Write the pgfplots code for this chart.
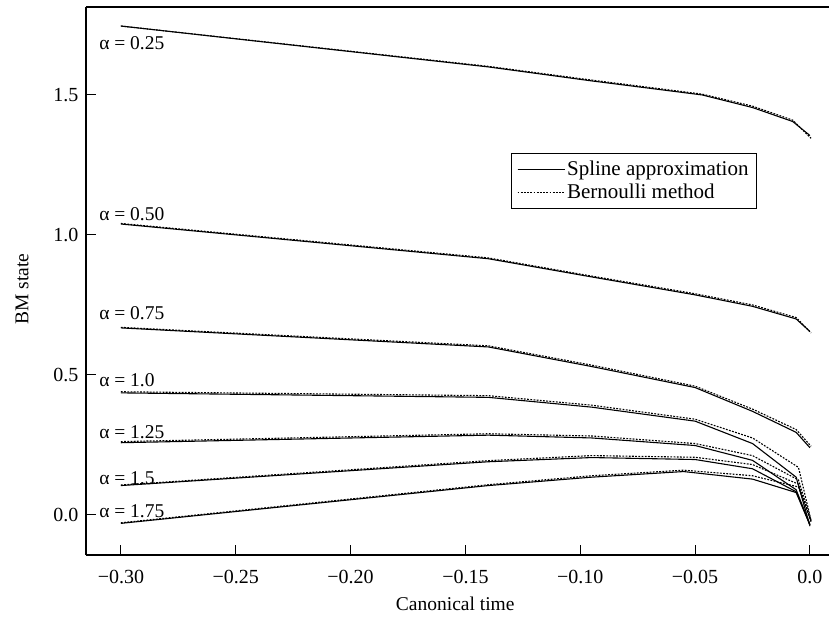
\documentclass[border=0pt]{standalone}
\usepackage{fontspec}
\setmainfont{Liberation Serif}
\usepackage{pgfplots}
\pgfplotsset{compat=1.18}
\begin{document}
\begin{tikzpicture}[x=1pt,y=1pt]
\begin{axis}[
  at={(0,0)}, anchor=south west,
  scale only axis, width=743pt, height=548pt,
  xmin=-0.3152, xmax=0.0083, ymin=-0.143, ymax=1.814,
  axis x line=box, axis y line=left,
  axis line style={-, line width=1.1pt},
  every outer y axis line/.append style={-},
  every outer x axis line/.append style={-},
  xtick={-0.3,-0.25,-0.2,-0.15,-0.1,-0.05,0},
  xticklabels={\textnormal{−0.30},\textnormal{−0.25},\textnormal{−0.20},\textnormal{−0.15},\textnormal{−0.10},\textnormal{−0.05},\textnormal{0.0}},
  ytick={0,0.5,1,1.5},
  yticklabels={\textnormal{0.0},\textnormal{0.5},\textnormal{1.0},\textnormal{1.5}},
  xtick pos=lower, ytick pos=left,
  tick align=inside, major tick length=10pt,
  tick style={line width=1pt, black},
  tick label style={font=\fontsize{20}{24}\selectfont},
  xticklabel style={yshift=-12pt},
  yticklabel style={xshift=-4pt},
  xlabel={Canonical time},
  ylabel={BM state},
  every axis x label/.style={at={(axis description cs:0.497,-0.090)}, anchor=center, font=\fontsize{19.5}{23}\selectfont},
  every axis y label/.style={at={(axis description cs:-0.086,0.485)}, rotate=90, anchor=center, font=\fontsize{19.5}{23}\selectfont},
  legend style={at={(0.903,0.734)}, anchor=north east, draw=black, line width=0.8pt,
    font=\fontsize{21}{25}\selectfont, inner xsep=6pt, inner ysep=6pt, row sep=3pt},
  legend cell align=left,
  legend image code/.code={\draw[#1] (0pt,0pt) -- (40pt,0pt); \path (0pt,0pt) -- (47pt,0pt);},
]
\addlegendimage{black, line width=1.1pt}
\addlegendentry{Spline approximation}
\addlegendimage{black, line width=1.1pt, dash pattern=on 1.8pt off 1.4pt}
\addlegendentry{Bernoulli method}

\pgfplotsset{spl/.style={black, line width=1.1pt, forget plot}, ber/.style={black, line width=1.1pt, dash pattern=on 1.8pt off 1.4pt, forget plot}}
% alpha = 0.25
\addplot[spl] coordinates {(-0.30,1.746) (-0.14,1.600) (-0.095,1.550) (-0.047,1.500) (-0.025,1.455) (-0.0075,1.405) (0,1.355)};
\addplot[ber] coordinates {(-0.30,1.746) (-0.14,1.602) (-0.095,1.553) (-0.047,1.503) (-0.025,1.460) (-0.0075,1.410) (0.0005,1.345)};
% alpha = 0.50
\addplot[spl] coordinates {(-0.30,1.039) (-0.14,0.915) (-0.095,0.850) (-0.05,0.786) (-0.025,0.745) (-0.006,0.700) (0,0.655)};
\addplot[ber] coordinates {(-0.30,1.041) (-0.14,0.918) (-0.095,0.853) (-0.05,0.790) (-0.025,0.750) (-0.006,0.705) (0.0005,0.650)};
% alpha = 0.75
\addplot[spl] coordinates {(-0.30,0.668) (-0.14,0.600) (-0.095,0.530) (-0.05,0.455) (-0.025,0.370) (-0.006,0.295) (0,0.240)};
\addplot[ber] coordinates {(-0.30,0.670) (-0.14,0.604) (-0.095,0.535) (-0.05,0.460) (-0.025,0.378) (-0.006,0.305) (0.0005,0.245)};
% alpha = 1.0
\addplot[spl] coordinates {(-0.30,0.436) (-0.14,0.420) (-0.095,0.385) (-0.05,0.335) (-0.025,0.255) (-0.006,0.135) (0,-0.040)};
\addplot[ber] coordinates {(-0.30,0.440) (-0.14,0.426) (-0.095,0.392) (-0.05,0.342) (-0.025,0.275) (-0.005,0.170) (0.0005,-0.020)};
% alpha = 1.25
\addplot[spl] coordinates {(-0.30,0.258) (-0.14,0.285) (-0.095,0.275) (-0.05,0.248) (-0.025,0.195) (-0.006,0.090) (0,-0.035)};
\addplot[ber] coordinates {(-0.30,0.262) (-0.14,0.290) (-0.095,0.282) (-0.05,0.255) (-0.025,0.212) (-0.005,0.125) (0.0005,-0.020)};
% alpha = 1.5
\addplot[spl] coordinates {(-0.30,0.105) (-0.14,0.190) (-0.095,0.205) (-0.05,0.198) (-0.025,0.165) (-0.006,0.083) (0,-0.035)};
\addplot[ber] coordinates {(-0.30,0.107) (-0.14,0.194) (-0.095,0.212) (-0.05,0.206) (-0.025,0.180) (-0.005,0.110) (0.0005,-0.025)};
% alpha = 1.75
\addplot[spl] coordinates {(-0.30,-0.030) (-0.14,0.105) (-0.095,0.135) (-0.055,0.155) (-0.025,0.128) (-0.006,0.080) (0,-0.035)};
\addplot[ber] coordinates {(-0.30,-0.028) (-0.14,0.108) (-0.095,0.140) (-0.055,0.160) (-0.025,0.140) (-0.005,0.100) (0.0005,-0.025)};

\begin{scope}[every node/.style={anchor=west, inner sep=0pt, font=\fontsize{19.5}{23}\selectfont}]
\node at (axis cs:-0.3095,1.686) {α = 0.25};
\node at (axis cs:-0.3095,1.075) {α = 0.50};
\node at (axis cs:-0.3095,0.720) {α = 0.75};
\node at (axis cs:-0.3095,0.480) {α = 1.0};
\node at (axis cs:-0.3095,0.296) {α = 1.25};
\node at (axis cs:-0.3095,0.132) {α = 1.5};
\node at (axis cs:-0.3095,0.014) {α = 1.75};
\end{scope}
\end{axis}
\pgfresetboundingbox
\path (-86,-77) rectangle (743,555);
\end{tikzpicture}
\end{document}
